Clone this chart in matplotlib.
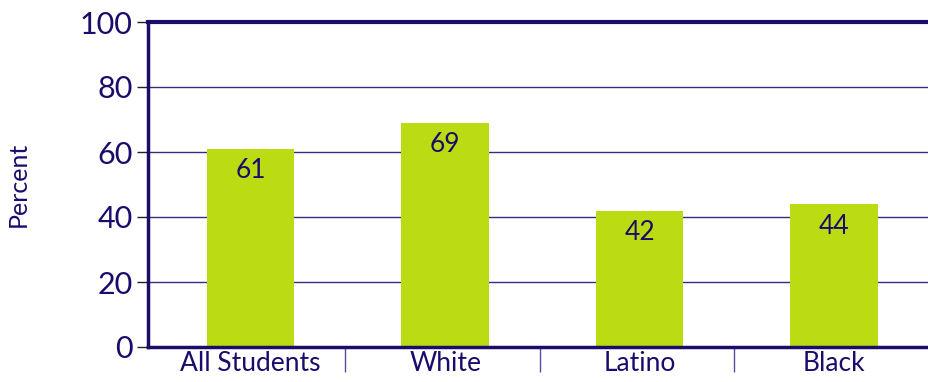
import matplotlib
matplotlib.use("Agg")
import matplotlib.pyplot as plt
import numpy as np

NAVY = "#1b0b6b"
GRID = "#3a2a86"
LIME = "#bbdb12"

categories = ["All Students", "White", "Latino", "Black"]
values = [61, 69, 42, 44]
yticks = [0, 20, 40, 60, 80, 100]

plt.rcParams["font.family"] = ["Lato", "DejaVu Sans"]

fig = plt.figure(figsize=(9.29, 3.82), dpi=100)
ax = fig.add_axes([148 / 929, 1 - 347 / 382, 1 - 148 / 929, (347 - 22) / 382])

x = np.arange(len(categories))
ax.bar(x, values, width=0.45, color=LIME, zorder=3)

for xi, v in zip(x, values):
    ax.text(xi, v - 3, str(v), ha="center", va="top", fontsize=19,
            color=NAVY, zorder=4)

ax.set_ylim(0, 100)
ax.set_xlim(-0.527, 3.47)
ax.set_yticks(yticks)
ax.set_yticklabels([str(t) for t in yticks], fontsize=22, color=NAVY)
for t in yticks[1:-1]:
    ax.axhline(t, color=GRID, lw=1.0, zorder=1)
ax.axhline(100, color=NAVY, lw=3, zorder=2, clip_on=False)

ax.set_xticks(x)
ax.set_xticklabels(categories, fontsize=19, color=NAVY)
ax.tick_params(axis="x", length=0, pad=3)
ax.set_xticks(np.arange(len(categories)) + 0.487, minor=True)
ax.tick_params(axis="x", which="minor", length=18, width=1, color="#5a4a9a")
ax.tick_params(axis="y", length=8, width=1, color="#222222", pad=3)

ax.set_ylabel("Percent", fontsize=18, color=NAVY, labelpad=36)

for side in ["top", "right"]:
    ax.spines[side].set_visible(False)
ax.spines["left"].set_color(NAVY)
ax.spines["left"].set_linewidth(2.5)
ax.spines["bottom"].set_color(NAVY)
ax.spines["bottom"].set_linewidth(2.5)
ax.spines["left"].set_zorder(5)
ax.spines["bottom"].set_zorder(5)

fig.savefig("out.png", dpi=100)
